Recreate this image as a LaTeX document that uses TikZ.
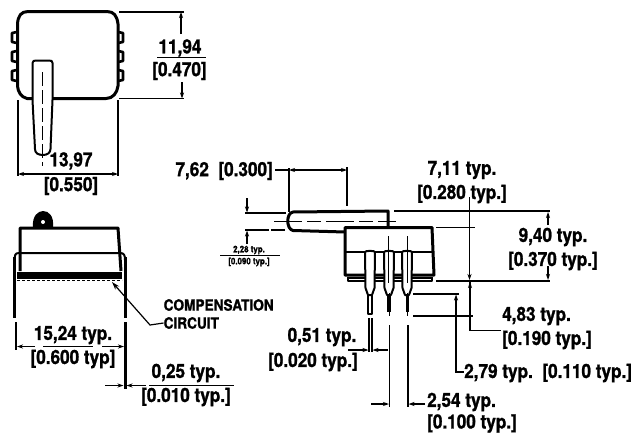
\documentclass[tikz,border=0pt]{standalone}
\usepackage{fontspec}
\setmainfont{TeX Gyre Heros}[FakeStretch=0.88,BoldFeatures={FakeBold=1.2}]
\usetikzlibrary{arrows.meta}
\tikzset{
  thick outline/.style={line width=3pt,line join=round},
  mid outline/.style={line width=2pt,line join=round},
  dim/.style={line width=1.3pt,arrows={-Stealth[length=6pt,width=4pt]}},
  dimline/.style={line width=1.3pt},
  extline/.style={line width=1.6pt},
  lab/.style={font=\fontsize{19.5}{20}\selectfont\bfseries,inner sep=0pt},
  smalllab/.style={font=\fontsize{9}{10}\selectfont\bfseries,inner sep=0pt},
  complab/.style={font=\fontsize{15.5}{16}\selectfont\bfseries,inner sep=0pt,anchor=west},
  center line/.style={line width=1pt,dash pattern=on 14pt off 4pt},
}
\begin{document}
\begin{tikzpicture}[x=1pt,y=-1pt]
\useasboundingbox (0,0) rectangle (637,434);
% ---- top view
\foreach \yy in {32,51,70}{
  \draw[line width=2.6pt,line join=round] (17,\yy) -- (12,\yy+1) -- (12,\yy+10) -- (17,\yy+11);
  \draw[line width=2.6pt,line join=round] (118,\yy) -- (123,\yy+1) -- (123,\yy+10) -- (118,\yy+11);
}
\draw[thick outline] (32,98.5) -- (27,98.5) .. controls (21,97) and (18,92) .. (17.5,86)
  -- (17.5,24) .. controls (18,16) and (21,11.5) .. (28,11.5) -- (107,11.5)
  .. controls (114,11.5) and (117,16) .. (118,24) -- (118,86)
  .. controls (117,93) and (113,98.5) .. (106,98.5) -- (53,98.5);
\draw[mid outline,fill=white] (32.5,63) .. controls (32.5,61) and (34,60.5) .. (36,60.5) -- (49,60.5)
  .. controls (51.5,60.5) and (52.5,61) .. (52.5,63) -- (52.5,100) -- (50.5,149)
  .. controls (50.5,153) and (47,155) .. (43,155) .. controls (38,155) and (35,153) .. (35,149)
  -- (32.5,100) -- cycle;
\draw[center line] (42,72) -- (42,166);
% 11,94 dimension
\draw[extline] (119,12) -- (184,12);
\draw[extline] (119,98.5) -- (184,98.5);
\coordinate (d1t) at (181,12); \coordinate (d1a) at (181,34);
\coordinate (d1b) at (182,82); \coordinate (d1c) at (182,98.5);
\draw[dim] (d1a) -- (d1t);
\draw[dim] (d1b) -- (d1c);
\node[lab] (t1) at (180,48) {11,94};
\draw[dimline] (157,57.5) -- (206,57.5);
\node[lab] (t2) at (179.5,71) {[0.470]};
% 13,97 dimension
\draw[extline] (18,100) -- (18,176);
\draw[extline] (118,100) -- (118,176);
\coordinate (d2l) at (18,174); \coordinate (d2a) at (44,174);
\coordinate (d2r) at (118,174); \coordinate (d2b) at (94,174);
\draw[dim] (d2a) -- (d2l);
\draw[dim] (d2b) -- (d2r);
\draw[dimline] (44,174) -- (94,174);
\node[lab] (t3) at (71,161) {13,97};
\node[lab] (t4) at (71,186) {[0.550]};
% ---- side view lower left
\fill (33,227) .. controls (32,216) and (38,211) .. (43,211) .. controls (49,211) and (54,216) .. (53,227) -- cycle;
\fill[white] (43,222) circle[radius=2];
\draw[thick outline] (20,271) -- (20,228) -- (118,228) -- (121,271);
\draw[mid outline] (14.5,262) .. controls (14.5,255) and (15,253) .. (19,253) -- (120,253)
  .. controls (124,253) and (125,255) .. (125,260);
\fill (17,272) rectangle (122,278.5);
\draw[line width=1pt,densely dashed] (17,280.5) -- (122,280.5);
\draw[thick outline] (14.5,257) -- (14.5,318);
\draw[thick outline] (125,257) -- (125,318);
\draw[thick outline] (125,322) -- (125,389);
\draw[extline] (16,322) -- (16,350);
\coordinate (d3l) at (17,346.5); \coordinate (d3a) at (35,346.5);
\coordinate (d3r) at (124,346.5); \coordinate (d3b) at (102,346.5);
\draw[dim] (d3a) -- (d3l);
\draw[dim] (d3b) -- (d3r);
\draw[dimline] (43,346.5) -- (93,346.5);
\node[lab] (t5) at (73,335) {15,24 typ.};
\node[lab] (t6) at (73,359) {[0.600 typ]};
\coordinate (d4l) at (105,385.5); \coordinate (d4a) at (123.5,385.5);
\coordinate (d4r) at (146,385.5); \coordinate (d4b) at (126.5,385.5);
\draw[dim] (d4l) -- (d4a);
\draw[dim] (d4r) -- (d4b);
\draw[dimline] (149,385.5) -- (234,385.5);
\node[lab] (t7) at (186,373) {0,25 typ.};
\node[lab] (t8) at (186,397) {[0.010 typ.]};
\node[complab] (c1) at (163.5,305) {COMPENSATION};
\node[complab] (c2) at (163.5,323) {CIRCUIT};
\coordinate (cl) at (150,325);
\draw[line width=1.2pt,arrows={Stealth[length=8pt,width=5pt]-}] (112,282) -- (cl) -- (c2.west);
% ---- right view
\draw[thick outline] (345,275) -- (345,227.5) -- (432,227.5) -- (434,275) -- cycle;
\draw[mid outline] (346,252) -- (433,252);
\draw[mid outline] (348,277) -- (348,281) -- (432,281) -- (432,277);
\draw[line width=2pt] (349,278) -- (431,278);
% tube
\draw[thick outline] (388,226) -- (388,211) -- (293,212) .. controls (286,213) and (286,229) .. (293,230.5) -- (345,232);
\draw[center line,dash pattern=on 28pt off 5pt on 14pt off 5pt] (274,221) -- (396,221);
% pins
\foreach \px in {370,389,407}{
  \draw[mid outline,fill=white] (\px-5,252) .. controls (\px-5,250.5) and (\px+5,250.5) .. (\px+5,252)
    -- (\px+4.5,288) -- (\px+2,295) -- (\px-2,295) -- (\px-4.5,288) -- cycle;
}
\draw[mid outline] (368,295) -- (368,314) -- (372,314) -- (372,295);
\draw[line width=3.4pt] (389,295) -- (389,312);
\draw[line width=3.4pt] (407.5,295) -- (407.5,312);
\draw[line width=0.8pt] (389,293) -- (389,316);
\draw[line width=0.8pt] (407.5,293) -- (407.5,316);
\draw[line width=0.9pt] (388.5,236) -- (388.5,283);
\draw[line width=0.9pt] (407,236) -- (407,283);
% 7,62
\node[lab,anchor=east] (t9) at (273,171) {7,62\ \ [0.300]};
\draw[extline] (275,170) -- (289,170);
\draw[extline] (289,168) -- (289,212);
\draw[extline] (347,167) -- (347,206);
\coordinate (e1) at (289,170); \coordinate (e2) at (347,170);
\draw[line width=1.3pt,arrows={Stealth[length=6pt,width=4pt]-Stealth[length=6pt,width=4pt]}] (e1) -- (e2);
% 2,28
\draw[extline] (245,213) -- (286,213);
\draw[extline,dash pattern=on 24pt off 2pt] (245,230) -- (285,230);
\coordinate (f1) at (247,198); \coordinate (f2) at (247,212.5);
\coordinate (f3) at (247,244); \coordinate (f4) at (247,230.5);
\draw[dim] (f1) -- (f2);
\draw[dim] (f3) -- (f4);
\draw[dimline] (220,255.5) -- (280,255.5);
\node[smalllab] (t10) at (249,250) {2,28 typ.};
\node[smalllab] (t11) at (249,262) {[0.090 typ.]};
% 7,11 / 9,40
\node[lab] (t12) at (462,170) {7,11 typ.};
\node[lab] (t13) at (462,194) {[0.280 typ.]};
\draw[extline] (394,211) -- (550,211);
\draw[extline] (436,227.5) -- (475,227.5);
\draw[extline] (436,281) -- (550,281);
\coordinate (g1) at (469.5,197); \coordinate (g2) at (469.5,227.5);
\coordinate (g3) at (469.5,280);
\draw[dimline] (g1) -- (g2);
\draw[dim] (g2) -- (g3);
\coordinate (h1) at (548,212); \coordinate (h2) at (548,225);
\coordinate (h3) at (548,266); \coordinate (h4) at (548,280);
\draw[dim] (h2) -- (h1);
\draw[dim] (h3) -- (h4);
\node[lab] (t14) at (553,237) {9,40 typ.};
\node[lab] (t15) at (553,261) {[0.370 typ.]};
% 4,83
\coordinate (i1) at (470,282); \coordinate (i2) at (470,316); \coordinate (i3) at (470,330.5);
\draw[dim] (i2) -- (i1);
\draw[dimline] (i1) -- (i3) -- (501,330.5);
\draw[extline] (413,316) -- (473,316);
\node[lab,anchor=west] (t16) at (502,316) {4,83 typ.};
\node[lab,anchor=west] (t17) at (502,340) {[0.190 typ.]};
% 2,79
\draw[extline] (413,294) -- (459,294);
\coordinate (j1) at (456,294.5); \coordinate (j2) at (456,372);
\draw[dim] (456,305) -- (j1);
\draw[dimline] (456,305) -- (j2) -- (464,372);
\node[lab,anchor=west] (t18) at (464,373) {2,79 typ.\ \ [0.110 typ.]};
% 0,51
\draw[dimline] (369,318) -- (369,352);
\draw[dimline] (372,318) -- (372,352);
\coordinate (k1) at (348,350); \coordinate (k2) at (368.5,350);
\coordinate (k3) at (388,350); \coordinate (k4) at (372.5,350);
\draw[dim] (k1) -- (k2);
\draw[dim] (k3) -- (k4);
\node[lab] (t19) at (322,337) {0,51 typ.};
\node[lab,anchor=east] (t20) at (358,362) {[0.020 typ.]};
% 2,54
\draw[dimline] (389.5,325) -- (389.5,407);
\draw[dimline] (408,325) -- (408,407);
\coordinate (l1) at (371,404); \coordinate (l2) at (389,404);
\coordinate (l3) at (425,404); \coordinate (l4) at (408.5,404);
\draw[dim] (l1) -- (l2);
\draw[dim] (l3) -- (l4);
\node[lab,anchor=west] (t21) at (427,402) {2,54 typ.};
\node[lab,anchor=west] (t22) at (427,423.5) {[0.100 typ.]};
\end{tikzpicture}
\end{document}
